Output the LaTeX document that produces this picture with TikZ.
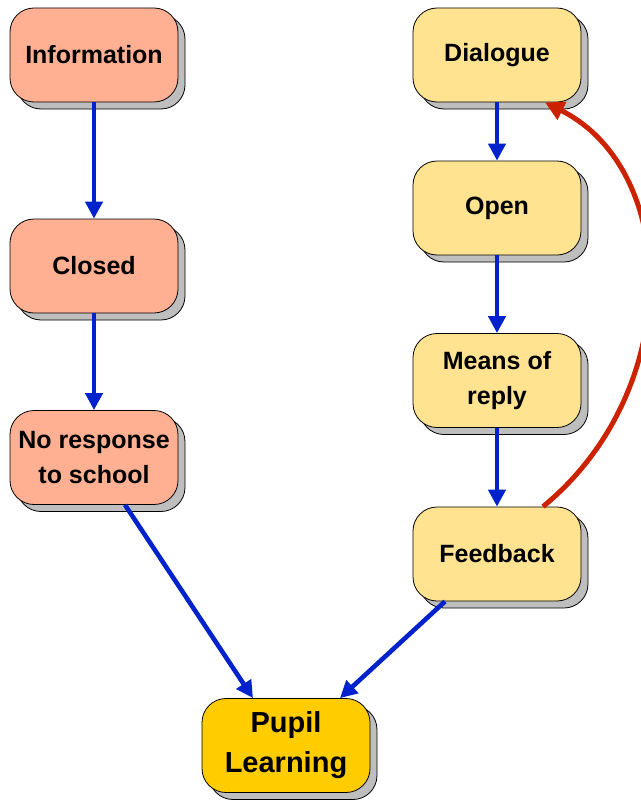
\documentclass[tikz,border=0pt]{standalone}
\usepackage{fontspec}
\setmainfont{Liberation Sans}
\usetikzlibrary{arrows.meta,shadows}
\definecolor{salmon}{RGB}{255,176,146}
\definecolor{lightyel}{RGB}{255,227,145}
\definecolor{gold}{RGB}{255,204,0}
\definecolor{shadowgray}{RGB}{190,190,190}
\definecolor{arrblue}{RGB}{0,34,204}
\definecolor{arrred}{RGB}{204,34,0}
\tikzset{
  box/.style={draw=black, line width=0.8pt, rounded corners=24pt,
    minimum width=168pt, minimum height=94pt, align=center,
    font=\fontsize{25}{35}\selectfont\bfseries,
    general shadow={shadow xshift=7pt, shadow yshift=-7pt, fill=shadowgray, draw=black, line width=0.8pt}},
  leftbox/.style={box, fill=salmon},
  rightbox/.style={box, fill=lightyel},
  goalbox/.style={box, fill=gold, font=\fontsize{29}{40}\selectfont\bfseries},
  flow/.style={draw=arrblue, line width=4.6pt, -{Triangle[width=17pt,length=17pt]}},
  back/.style={draw=arrred, line width=5pt, -{Triangle[width=19pt,length=19pt]}}
}
\begin{document}
\begin{tikzpicture}[x=1pt,y=-1pt]
\useasboundingbox (0,0) rectangle (640,800);
\node[leftbox] (inf) at (94,55) {Information};
\node[leftbox] (cl) at (94,266) {Closed};
\node[leftbox] (nr) at (94,457.5) {No response\\to school};
\node[rightbox] (dl) at (497,55) {Dialogue};
\node[rightbox] (op) at (497,208) {Open};
\node[rightbox] (mr) at (497,380.5) {Means of\\reply};
\node[rightbox] (fb) at (497,554) {Feedback};
\node[goalbox] (pl) at (286,745.5) {Pupil\\Learning};
\draw[flow] (inf.south) -- (cl.north);
\draw[flow] (cl.south) -- (nr.north);
\draw[flow] ([xshift=31pt]nr.south) -- ([xshift=-33pt]pl.north);
\draw[flow] (dl.south) -- (op.north);
\draw[flow] (op.south) -- (mr.north);
\draw[flow] (mr.south) -- (fb.north);
\draw[flow] ([xshift=-52pt]fb.south) -- ([xshift=54pt]pl.north);
\draw[back] ([xshift=46pt]fb.north) .. controls (685,390) and (680,170) .. ([xshift=48pt]dl.south);
\end{tikzpicture}
\end{document}
